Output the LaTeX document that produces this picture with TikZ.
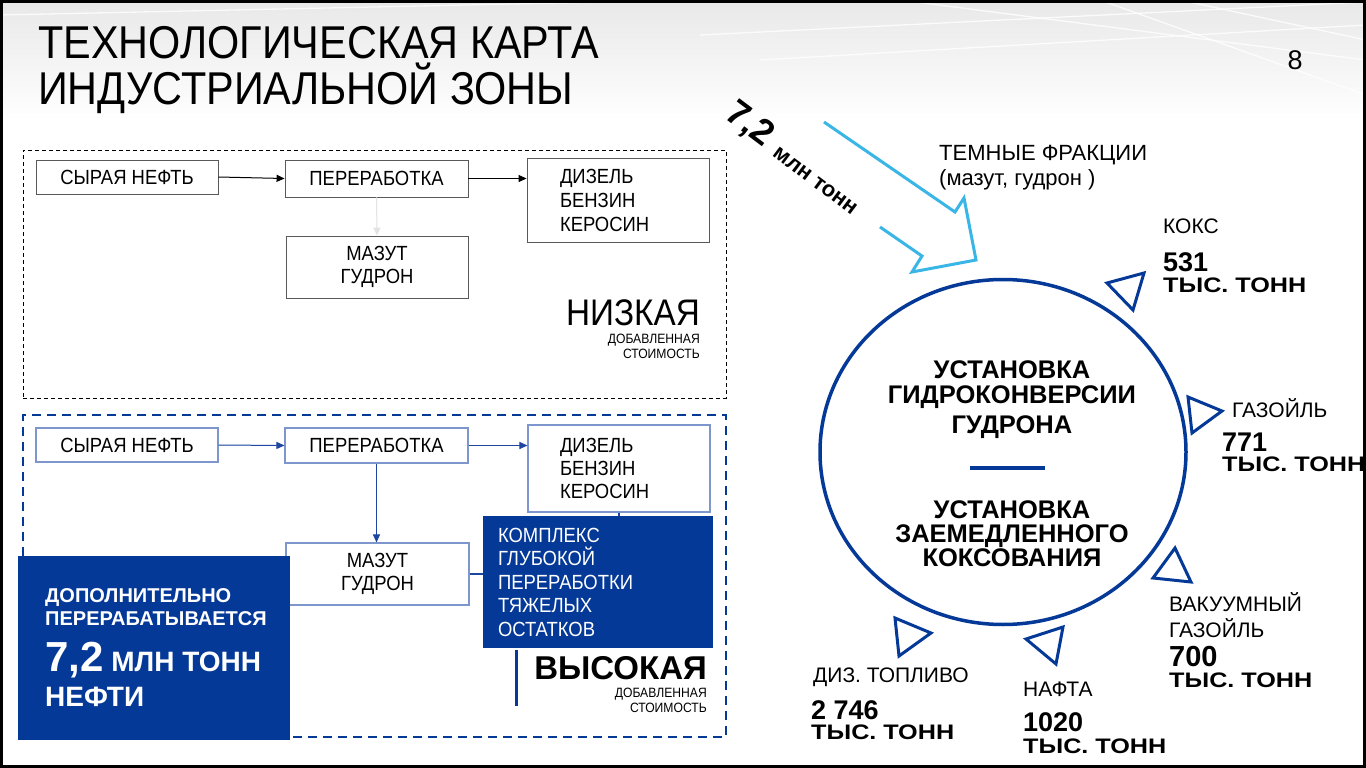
\documentclass[tikz,border=0pt]{standalone}
\usepackage{fontspec}
\setmainfont{Liberation Sans}
\newfontfamily\nar[FakeStretch=0.9]{Liberation Sans}
\newfontfamily\wid[FakeStretch=1.2]{Liberation Sans}
\usetikzlibrary{arrows.meta,shapes.geometric}
\definecolor{dblue}{RGB}{5,57,152}
\definecolor{lblue}{RGB}{125,150,205}
\definecolor{cyanarr}{RGB}{58,182,230}
\definecolor{arrblue}{RGB}{30,70,160}
\newcommand\fsz[2]{\fontsize{#1pt}{#2pt}\selectfont}
\begin{document}
\begin{tikzpicture}[x=1pt,y=-1pt,
  box/.style={draw=gray!70!black, line width=0.9pt, inner sep=0pt, align=center, font=\nar\fsz{20.5}{23}},
  bbox/.style={draw=lblue, line width=1.1pt, inner sep=0pt, align=center, font=\nar\fsz{20.5}{23}},
  karr/.style={-{Triangle[length=8pt,width=7pt]}, line width=1pt},
  barr/.style={karr, draw=arrblue, fill=arrblue},
  tri/.style={draw=dblue, line width=3pt, line join=miter},
  txt/.style={anchor=base west, inner sep=0pt},
  txe/.style={anchor=base east, inner sep=0pt},
  lab/.style={txt, font=\fsz{21}{25}},
  num/.style={txt, font=\bfseries\fsz{27}{30}},
  tys/.style={txt, font=\wid\bfseries\fsz{21}{25}},
  ctext/.style={anchor=base, inner sep=0pt, font=\bfseries\fsz{25.5}{28}},
  wtxt/.style={txt, text=white, font=\bfseries\fsz{20}{23}},
]
\useasboundingbox (0,0) rectangle (1366,768);
\fill[white] (0,0) rectangle (1366,768);
\shade[top color=black!9, bottom color=white] (0,0) rectangle (1366,120);
\begin{scope}[white, line width=1.3pt, opacity=0.8]
  \draw (700,35) -- (1366,2);
  \draw (900,0) -- (1366,60);
  \draw (1100,0) -- (1366,95);
  \draw (760,60) -- (1366,25);
  \draw (1180,0) -- (1366,40);
  \draw (0,15) -- (700,0);
\end{scope}

% title
\node[txt, font=\nar\fsz{46}{50}] (t1) at (38,59) {ТЕХНОЛОГИЧЕСКАЯ КАРТА};
\node[txt, font=\nar\fsz{46}{50}] (t2) at (38,104) {ИНДУСТРИАЛЬНОЙ ЗОНЫ};
\node[anchor=base, inner sep=0pt, font=\fsz{27}{30}] (pg) at (1295,70) {8};

% upper zone
\node[draw, dash pattern=on 4pt off 3pt, line width=1pt, minimum width=703pt, minimum height=248pt, inner sep=0pt] (lowzone) at (374.5,274) {};
\node[box, minimum width=182pt, minimum height=34pt] (u1) at (127,177) {СЫРАЯ НЕФТЬ};
\node[box, minimum width=183pt, minimum height=37pt] (u2) at (376.5,178.5) {ПЕРЕРАБОТКА};
\node[box, minimum width=182pt, minimum height=84pt, inner xsep=33pt, text width=116pt, align=left, font=\nar\fsz{20.5}{24}] (u3) at (618,200) {ДИЗЕЛЬ\\БЕНЗИН\\КЕРОСИН};
\node[box, minimum width=182pt, minimum height=62pt] (u4) at (377,267) {МАЗУТ\\ГУДРОН};
\draw[karr] (u1.east) -- (u2.west);
\draw[karr] (u2.east) -- (u2.east -| u3.west);
\draw[karr, draw=gray!22, fill=gray!22] (u2.south) -- (u4.north);
\node[txe, font=\nar\fsz{37}{40}] (lowt) at (700,325) {НИЗКАЯ};
\node[txe, font=\nar\fsz{13.5}{15}] (lowa) at (700,343) {ДОБАВЛЕННАЯ};
\node[txe, font=\nar\fsz{13.5}{15}] (lowb) at (700,358) {СТОИМОСТЬ};

% lower zone
\node[draw=dblue, dash pattern=on 9pt off 6pt, line width=2.5pt, minimum width=703pt, minimum height=322pt, inner sep=0pt] (highzone) at (374.5,576) {};
\node[bbox, minimum width=182pt, minimum height=34pt] (l1) at (127,445) {СЫРАЯ НЕФТЬ};
\node[bbox, minimum width=183pt, minimum height=35pt] (l2) at (376.5,445.5) {ПЕРЕРАБОТКА};
\node[bbox, minimum width=182pt, minimum height=87pt, inner xsep=32pt, text width=118pt, align=left, font=\nar\fsz{20.5}{23}] (l3) at (619,468.5) {ДИЗЕЛЬ\\БЕНЗИН\\КЕРОСИН};
\node[bbox, minimum width=183pt, minimum height=62pt] (l4) at (377.5,574) {МАЗУТ\\ГУДРОН};
\draw[barr] (l1.east) -- (l2.west);
\draw[barr] (l2.east) -- (l2.east -| l3.west);
\draw[barr] (l2.south) -- (l2.south |- l4.north);
\node[fill=dblue, minimum width=230pt, minimum height=132pt, inner xsep=15pt, text width=200pt, align=left, text=white, font=\nar\fsz{20.5}{23.5}] (kompl) at (598,582) {КОМПЛЕКС\\ГЛУБОКОЙ\\ПЕРЕРАБОТКИ\\ТЯЖЕЛЫХ\\ОСТАТКОВ};
\draw[arrblue, line width=1.2pt] (l4.east) -- (l4.east -| kompl.west);
\draw[arrblue, line width=1.2pt] (l3.south) -- (l3.south |- kompl.north);

\node[fill=dblue, minimum width=272pt, minimum height=184pt, inner sep=0pt] (extra) at (154,648) {};
\node[wtxt] (e1) at (45,602) {ДОПОЛНИТЕЛЬНО};
\node[wtxt] (e2) at (45,625) {ПЕРЕРАБАТЫВАЕТСЯ};
\node[wtxt, font=\bfseries\fsz{28}{30}] (e3) at (45,671) {{\fsz{42}{44}7,2} МЛН ТОНН};
\node[wtxt, font=\bfseries\fsz{28}{30}] (e4) at (45,706) {НЕФТИ};

\coordinate (vl1) at (516,650);
\coordinate (vl2) at (516,706);
\draw[dblue, line width=3pt] (vl1) -- (vl2);
\node[txe, font=\bfseries\fsz{33}{36}] (hight) at (707,679) {ВЫСОКАЯ};
\node[txe, font=\nar\fsz{13.5}{15}] (higha) at (707,697) {ДОБАВЛЕННАЯ};
\node[txe, font=\nar\fsz{13.5}{15}] (highb) at (707,712) {СТОИМОСТЬ};

% right side
\draw[cyanarr, line width=3pt, line join=miter] (824,122) -- (955,212) -- (964,198) -- (976,260) -- (912,272) -- (922,256) -- (880,227);
\node[rotate=-37, inner sep=0pt, font=\bfseries\fsz{36}{38}] (vol1) at (749,125) {7,2};
\node[rotate=-37, inner sep=0pt, font=\bfseries\fsz{22}{24}] (vol2) at (815,181) {млн тонн};
\node[txt, font=\fsz{22}{25}] (dark1) at (939,160) {ТЕМНЫЕ ФРАКЦИИ};
\node[txt, font=\fsz{22}{25}] (dark2) at (939,185) {(мазут, гудрон )};

\node[draw=dblue, line width=3.5pt, ellipse, minimum width=366pt, minimum height=345pt, inner sep=0pt] (unit) at (1003,452) {};
\node[ctext] (c1) at (1012,378) {УСТАНОВКА};
\node[ctext] (c2) at (1012,403) {ГИДРОКОНВЕРСИИ};
\node[ctext] (c3) at (1012,433) {ГУДРОНА};
\coordinate (sepL) at (970,468);
\coordinate (sepR) at (1045,468);
\draw[dblue, line width=3.5pt] (sepL) -- (sepR);
\node[ctext] (c4) at (1012,518) {УСТАНОВКА};
\node[ctext] (c5) at (1012,542) {ЗАЕМЕДЛЕННОГО};
\node[ctext] (c6) at (1012,566) {КОКСОВАНИЯ};

% output triangles
\draw[tri] (1107,283) -- (1144,273) -- (1133,310) -- cycle;
\draw[tri] (1188,397) -- (1222,411) -- (1192,433) -- cycle;
\draw[tri] (1175,548) -- (1191,582) -- (1153,578) -- cycle;
\draw[tri] (895,618) -- (931,633) -- (899,656) -- cycle;
\draw[tri] (1026,639) -- (1063,627) -- (1056,664) -- cycle;

% labels
\node[lab] (k1) at (1163,233) {КОКС};
\node[num] (k2) at (1163,271) {531};
\node[tys] (k3) at (1163,292) {ТЫС. ТОНН};
\node[lab] (g1) at (1232,417) {ГАЗОЙЛЬ};
\node[num] (g2) at (1222,451) {771};
\node[tys] (g3) at (1222,471) {ТЫС. ТОНН};
\node[lab] (v1) at (1169,611) {ВАКУУМНЫЙ};
\node[lab] (v2) at (1169,637) {ГАЗОЙЛЬ};
\node[num, font=\bfseries\fsz{29}{31}] (v3) at (1169,666) {700};
\node[tys] (v4) at (1169,687) {ТЫС. ТОНН};
\node[lab] (d1) at (813,682) {ДИЗ. ТОПЛИВО};
\node[num] (d2) at (811,719) {2 746};
\node[tys] (d3) at (811,739) {ТЫС. ТОНН};
\node[lab] (n1) at (1023,696) {НАФТА};
\node[num] (n2) at (1023,731) {1020};
\node[tys] (n3) at (1023,753) {ТЫС. ТОНН};

% frame
\draw[black, line width=3pt] (1.5,1.5) rectangle (1364.5,766.5);
\end{tikzpicture}
\end{document}
